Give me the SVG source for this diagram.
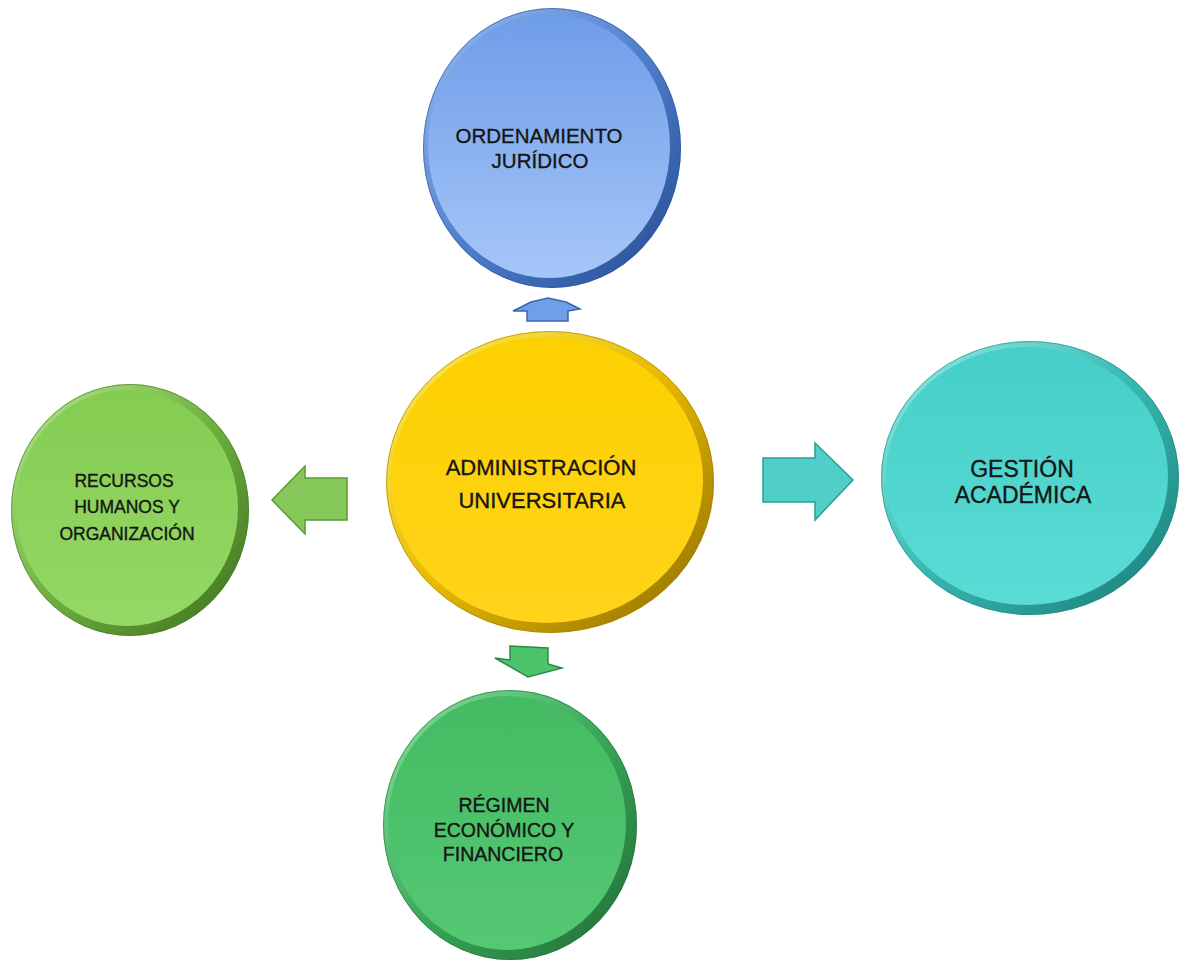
<svg xmlns="http://www.w3.org/2000/svg" width="1181" height="961" viewBox="0 0 1181 961">
<defs>
<linearGradient id="rimBlue" x1="0" y1="0" x2="1" y2="1"><stop offset="0" stop-color="#9dbdf2"/><stop offset="0.5" stop-color="#4f7fcc"/><stop offset="1" stop-color="#23498f"/></linearGradient>
<linearGradient id="bodyBlue" x1="0" y1="0" x2="0" y2="1"><stop offset="0" stop-color="#6e9de8"/><stop offset="1" stop-color="#a6c6f8"/></linearGradient>
<linearGradient id="rimYellow" x1="0" y1="0" x2="1" y2="1"><stop offset="0" stop-color="#fff066"/><stop offset="0.5" stop-color="#e6b800"/><stop offset="1" stop-color="#8a6a00"/></linearGradient>
<linearGradient id="bodyYellow" x1="0" y1="0" x2="0" y2="1"><stop offset="0" stop-color="#fcd000"/><stop offset="1" stop-color="#ffd41a"/></linearGradient>
<linearGradient id="rimLG" x1="0" y1="0" x2="1" y2="1"><stop offset="0" stop-color="#b6e890"/><stop offset="0.5" stop-color="#6fb040"/><stop offset="1" stop-color="#3b6e1c"/></linearGradient>
<linearGradient id="bodyLG" x1="0" y1="0" x2="0" y2="1"><stop offset="0" stop-color="#84cc52"/><stop offset="1" stop-color="#95d865"/></linearGradient>
<linearGradient id="rimTeal" x1="0" y1="0" x2="1" y2="1"><stop offset="0" stop-color="#9af0ea"/><stop offset="0.5" stop-color="#36b8b0"/><stop offset="1" stop-color="#1a7a75"/></linearGradient>
<linearGradient id="bodyTeal" x1="0" y1="0" x2="0" y2="1"><stop offset="0" stop-color="#45cfc8"/><stop offset="1" stop-color="#5adcd5"/></linearGradient>
<linearGradient id="rimDG" x1="0" y1="0" x2="1" y2="1"><stop offset="0" stop-color="#8ee3a3"/><stop offset="0.5" stop-color="#3aa85a"/><stop offset="1" stop-color="#1f6a35"/></linearGradient>
<linearGradient id="bodyDG" x1="0" y1="0" x2="0" y2="1"><stop offset="0" stop-color="#44bb62"/><stop offset="1" stop-color="#55c874"/></linearGradient>
</defs>
<style>
text{font-family:"Liberation Sans","DejaVu Sans",sans-serif;fill:#151515;stroke:#151515;stroke-width:0.35;text-anchor:middle}
.edge{fill:none;stroke-width:1;stroke-opacity:0.6}
.arrowBlue{fill:#6f9fe6;stroke:#3a66b0;stroke-width:1.5}
.arrowLG{fill:#86c95a;stroke:#5a9a34;stroke-width:1.5}
.arrowTeal{fill:#4fcfc7;stroke:#2a9f99;stroke-width:1.5}
.arrowDG{fill:#4cc46c;stroke:#2e8a47;stroke-width:1.5}
</style>
<rect width="1181" height="961" fill="#ffffff"/>

<g id="connectors">
<polygon class="arrowBlue" points="513,311 531,302 548,298 566,302 580,309 568,311 568,321 527,321 527,311"/>
<polygon class="arrowLG" points="272,500 305,466 305,478 347,478 347,520 305,520 305,534"/>
<polygon class="arrowTeal" points="763,458 815,458 815,443 853,480 815,520 815,502 763,502"/>
<polygon class="arrowDG" points="510,646 548,648 548,664 562,668 528,677 495,658 510,660"/>
</g>

<g id="node-ordenamiento">
<ellipse cx="552" cy="148" rx="129" ry="140" fill="url(#rimBlue)"/>
<ellipse class="edge" cx="552" cy="148" rx="128.5" ry="139.5" stroke="#2a55a0"/>
<ellipse cx="549" cy="146" rx="121" ry="132" fill="url(#bodyBlue)"/>
<text x="539" y="143" font-size="20.5">ORDENAMIENTO</text>
<text x="540" y="168" font-size="20.5">JURÍDICO</text>
</g>

<g id="node-administracion">
<ellipse cx="550" cy="482" rx="164" ry="151" fill="url(#rimYellow)"/>
<ellipse class="edge" cx="550" cy="482" rx="163.5" ry="150.5" stroke="#a88200"/>
<ellipse cx="547" cy="480" rx="156" ry="143" fill="url(#bodyYellow)"/>
<text x="541" y="475" font-size="22">ADMINISTRACIÓN</text>
<text x="542" y="508" font-size="22">UNIVERSITARIA</text>
</g>

<g id="node-recursos">
<ellipse cx="130" cy="510" rx="119" ry="126" fill="url(#rimLG)"/>
<ellipse class="edge" cx="130" cy="510" rx="118.5" ry="125.5" stroke="#437a22"/>
<ellipse cx="127" cy="508" rx="111" ry="118" fill="url(#bodyLG)"/>
<text x="124" y="487" font-size="17.5">RECURSOS</text>
<text x="127" y="513" font-size="17.5">HUMANOS Y</text>
<text x="127" y="540" font-size="17.5">ORGANIZACIÓN</text>
</g>

<g id="node-gestion">
<ellipse cx="1030" cy="478" rx="149" ry="137" fill="url(#rimTeal)"/>
<ellipse class="edge" cx="1030" cy="478" rx="148.5" ry="136.5" stroke="#1f8a84"/>
<ellipse cx="1027" cy="476" rx="141" ry="129" fill="url(#bodyTeal)"/>
<text x="1022" y="477" font-size="23">GESTIÓN</text>
<text x="1023" y="503" font-size="23">ACADÉMICA</text>
</g>

<g id="node-regimen">
<ellipse cx="510" cy="825" rx="127" ry="135" fill="url(#rimDG)"/>
<ellipse class="edge" cx="510" cy="825" rx="126.5" ry="134.5" stroke="#24783c"/>
<ellipse cx="507" cy="823" rx="119" ry="127" fill="url(#bodyDG)"/>
<text x="504" y="812" font-size="19.5">RÉGIMEN</text>
<text x="504" y="837" font-size="19.5">ECONÓMICO Y</text>
<text x="503" y="861" font-size="19.5">FINANCIERO</text>
</g>
</svg>
